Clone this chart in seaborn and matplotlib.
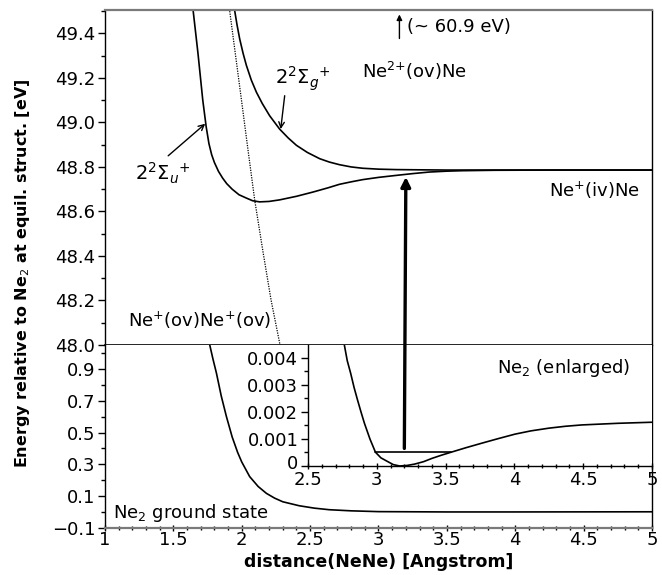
import matplotlib
matplotlib.use("Agg")
import matplotlib.pyplot as plt
import matplotlib.transforms as mtransforms
import seaborn as sns
from matplotlib.patches import ConnectionPatch
from matplotlib.ticker import FixedLocator, MultipleLocator

sns.set_style("ticks")
plt.rcParams["font.family"] = ["DejaVu Sans"]
plt.rcParams["mathtext.fontset"] = "dejavusans"
for key in ["text.color", "axes.labelcolor", "xtick.color", "ytick.color",
            "axes.edgecolor"]:
    plt.rcParams[key] = "black"

# ── data ─────────────────────────────────────────────────────────────────────
# upper panel (eV)
SIGMA_U_X = [1.645, 1.68, 1.715, 1.74, 1.76, 1.78, 1.80, 1.83, 1.86, 1.89, 1.93,
             1.98, 2.034, 2.08, 2.131, 2.20, 2.277, 2.40, 2.52, 2.63, 2.715,
             2.80, 2.885, 3.0, 3.13, 3.25, 3.37, 3.5, 3.61, 3.85, 4.3, 5.0]
SIGMA_U_Y = [49.50, 49.31, 49.10, 48.98, 48.905, 48.855, 48.82, 48.78, 48.75,
             48.725, 48.70, 48.675, 48.66, 48.648, 48.643, 48.645, 48.652,
             48.668, 48.687, 48.706, 48.722, 48.733, 48.743, 48.753, 48.762,
             48.770, 48.777, 48.781, 48.783, 48.785, 48.786, 48.786]
SIGMA_G_X = [1.949, 1.965, 1.985, 2.01, 2.034, 2.07, 2.107, 2.15, 2.204, 2.277,
             2.34, 2.40, 2.48, 2.57, 2.64, 2.715, 2.80, 2.885, 3.0, 3.13, 3.3,
             3.5, 5.0]
SIGMA_G_Y = [49.50, 49.44, 49.375, 49.31, 49.256, 49.19, 49.136, 49.085, 49.03,
             48.97, 48.93, 48.897, 48.865, 48.837, 48.822, 48.81, 48.80, 48.794,
             48.79, 48.788, 48.787, 48.786, 48.786]
DOT_X = [1.912, 1.955, 1.998, 2.045, 2.095, 2.155, 2.215, 2.28]
DOT_Y = [49.5, 49.3, 49.1, 48.88, 48.65, 48.42, 48.2, 48.0]

# lower panel (eV)
GROUND_X = [1.766, 1.79, 1.815, 1.85, 1.888, 1.93, 1.97, 2.0, 2.058, 2.12, 2.18,
            2.24, 2.30, 2.42, 2.53, 2.64, 2.8, 3.0, 3.5, 4.0, 5.0]
GROUND_Y = [1.05, 0.96, 0.873, 0.73, 0.60, 0.472, 0.375, 0.315, 0.223, 0.161,
            0.118, 0.088, 0.065, 0.04, 0.025, 0.015, 0.008, 0.003, 0.001,
            0.001, 0.002]

# inset (eV)
INSET_X = [2.764, 2.785, 2.81, 2.835, 2.86, 2.885, 2.91, 2.95, 2.99, 3.03, 3.08,
           3.12, 3.166, 3.22, 3.275, 3.34, 3.40, 3.47, 3.54, 3.65, 3.76, 3.88,
           4.005, 4.12, 4.25, 4.37, 4.49, 4.75, 5.0]
INSET_Y = [0.00448, 0.0039, 0.00343, 0.0029, 0.00244, 0.002, 0.00158, 0.001,
           0.00051, 0.0003, 0.00016, 0.00005, 0.0, 0.00002, 0.00007, 0.00016,
           0.00028, 0.0004, 0.00051, 0.00068, 0.00084, 0.00101, 0.00118,
           0.0013, 0.0014, 0.00147, 0.00152, 0.00158, 0.00162]
LEVEL_X = [2.99, 3.54]
LEVEL_Y = [0.00051, 0.00051]

# excitation arrow
EXC_X = 3.2
EXC_FROM = 0.00065   # inset units
EXC_TO = 48.755      # upper-panel units

# tick labels
UP_TICKS = [48.0, 48.2, 48.4, 48.6, 48.8, 49.0, 49.2, 49.4]
UP_LABELS = ["48.0", "48.2", "48.4", "48.6", "48.8", "49.0", "49.2", "49.4"]
LO_TICKS = [-0.1, 0.1, 0.3, 0.5, 0.7, 0.9]
LO_LABELS = ["\u22120.1", "0.1", "0.3", "0.5", "0.7", "0.9"]
X_TICKS = [1, 1.5, 2, 2.5, 3, 3.5, 4, 4.5, 5]
X_LABELS = ["1", "1.5", "2", "2.5", "3", "3.5", "4", "4.5", "5"]
IN_X_TICKS = [2.5, 3, 3.5, 4, 4.5, 5]
IN_X_LABELS = ["2.5", "3", "3.5", "4", "4.5", "5"]
IN_Y_TICKS = [0, 0.001, 0.002, 0.003, 0.004]
IN_Y_LABELS = ["0", "0.001", "0.002", "0.003", "0.004"]

FS = 13
GREY = "#7a7a7a"

fig = plt.figure(figsize=(6.62, 5.75), dpi=100)
ax_up = fig.add_axes([0.1586, 0.4, 0.8263, 0.5826])
ax_lo = fig.add_axes([0.1586, 0.0817, 0.8263, 0.3183])
ax_in = fig.add_axes([0.4653, 0.1896, 0.5196, 0.2104])

line_kw = dict(color="black", linewidth=1.2, estimator=None, legend=False)

# upper panel
sns.lineplot(x=SIGMA_U_X, y=SIGMA_U_Y, ax=ax_up, **line_kw)
sns.lineplot(x=SIGMA_G_X, y=SIGMA_G_Y, ax=ax_up, **line_kw)
sns.lineplot(x=DOT_X, y=DOT_Y, ax=ax_up, color="black", linewidth=0.9,
             linestyle=(0, (1, 1)), estimator=None, legend=False)
ax_up.set_xlim(1, 5)
ax_up.set_ylim(48.0, 49.505)
ax_up.yaxis.set_major_locator(FixedLocator(UP_TICKS))
ax_up.set_yticklabels(UP_LABELS)
ax_up.yaxis.set_minor_locator(MultipleLocator(0.1))
ax_up.set_xticks([])
ax_up.tick_params(axis="y", which="major", direction="out", length=5, width=1,
                  labelsize=FS, pad=2)
ax_up.tick_params(axis="y", which="minor", direction="out", length=3, width=1)
ax_up.spines["top"].set_color(GREY)
ax_up.spines["top"].set_linewidth(1.6)
ax_up.spines["bottom"].set_linewidth(1.2)
ax_up.spines["left"].set_linewidth(1.0)
ax_up.spines["right"].set_linewidth(1.0)
ax_up.set_xlabel("")
ax_up.set_ylabel("")

# lower panel
sns.lineplot(x=GROUND_X, y=GROUND_Y, ax=ax_lo, **line_kw)
ax_lo.set_xlim(1, 5)
ax_lo.set_ylim(-0.1, 1.05)
ax_lo.yaxis.set_major_locator(FixedLocator(LO_TICKS))
ax_lo.set_yticklabels(LO_LABELS)
ax_lo.yaxis.set_minor_locator(FixedLocator([0.0, 0.2, 0.4, 0.6, 0.8, 1.0]))
ax_lo.xaxis.set_major_locator(FixedLocator(X_TICKS))
ax_lo.set_xticklabels(X_LABELS)
ax_lo.xaxis.set_minor_locator(MultipleLocator(0.1))
ax_lo.tick_params(axis="both", which="major", length=5, width=1, labelsize=FS,
                  pad=2)
ax_lo.tick_params(axis="both", which="minor", length=3, width=1)
ax_lo.tick_params(axis="y", which="both", direction="out")
ax_lo.tick_params(axis="x", which="both", direction="inout", pad=0)
ax_lo.spines["top"].set_visible(False)
ax_lo.spines["bottom"].set_color(GREY)
ax_lo.spines["bottom"].set_linewidth(1.6)
ax_lo.spines["left"].set_linewidth(1.0)
ax_lo.spines["right"].set_linewidth(1.0)
ax_lo.set_xlabel("")
ax_lo.set_ylabel("")

# inset
sns.lineplot(x=INSET_X, y=INSET_Y, ax=ax_in, **line_kw)
sns.lineplot(x=LEVEL_X, y=LEVEL_Y, ax=ax_in, **line_kw)
ax_in.set_xlim(2.5, 5)
ax_in.set_ylim(0, 0.00448)
ax_in.xaxis.set_major_locator(FixedLocator(IN_X_TICKS))
ax_in.set_xticklabels(IN_X_LABELS)
ax_in.xaxis.set_minor_locator(MultipleLocator(0.1))
ax_in.yaxis.set_major_locator(FixedLocator(IN_Y_TICKS))
ax_in.set_yticklabels(IN_Y_LABELS)
ax_in.yaxis.set_minor_locator(MultipleLocator(0.0005))
ax_in.tick_params(axis="both", which="major", length=5, width=1, labelsize=FS,
                  pad=2)
ax_in.tick_params(axis="both", which="minor", length=3, width=1)
ax_in.tick_params(axis="y", which="both", direction="out")
ax_in.tick_params(axis="x", which="both", direction="inout", pad=1)
ax_in.spines["top"].set_visible(False)
ax_in.spines["right"].set_visible(False)
ax_in.spines["left"].set_linewidth(1.0)
ax_in.spines["bottom"].set_linewidth(1.0)
ax_in.set_xlabel("")
ax_in.set_ylabel("")

# labels and annotations
ax_up.text(2.24, 49.17, r"$2^2\Sigma_g{}^{+}$", fontsize=FS + 1, va="baseline")
ax_up.annotate("", xy=(2.285, 48.97), xytext=(2.314, 49.12),
               arrowprops=dict(arrowstyle="->", lw=1.0, color="black",
                               mutation_scale=10, shrinkA=0, shrinkB=0))
ax_up.text(1.219, 48.74, r"$2^2\Sigma_u{}^{+}$", fontsize=FS + 1, va="baseline")
ax_up.annotate("", xy=(1.733, 48.994), xytext=(1.462, 48.85),
               arrowprops=dict(arrowstyle="->", lw=1.0, color="black",
                               mutation_scale=10, shrinkA=0, shrinkB=0))
ax_up.annotate("", xy=(3.153, 49.485), xytext=(3.153, 49.377),
               arrowprops=dict(arrowstyle="-|>", lw=1.0, color="black",
                               mutation_scale=8, shrinkA=0, shrinkB=0))
ax_up.text(3.21, 49.43, "(~ 60.9 eV)", fontsize=FS, va="center")
ax_up.text(2.883, 49.20, r"Ne$^{2{+}}$(ov)Ne", fontsize=FS, va="baseline")
ax_up.text(4.25, 48.665, r"Ne$^{{+}}$(iv)Ne", fontsize=FS, va="baseline")
ax_up.text(1.168, 48.082, r"Ne$^{{+}}$(ov)Ne$^{{+}}$(ov)", fontsize=FS,
           va="baseline")
ax_in.text(3.876, 0.00344, r"Ne$_2$ (enlarged)", fontsize=FS, va="baseline")
ax_lo.text(1.056, -0.039, r"Ne$_2$ ground state", fontsize=FS, va="baseline")

exc = ConnectionPatch(xyA=(EXC_X, EXC_FROM), coordsA=ax_in.transData,
                      xyB=(EXC_X, EXC_TO), coordsB=ax_up.transData,
                      arrowstyle="-|>", lw=2.4, color="black",
                      mutation_scale=14, shrinkA=0, shrinkB=0)
fig.add_artist(exc)

fig.text(23 / 662, 1 - 273 / 575, r"Energy relative to Ne$_2$ at equil. struct. [eV]",
         rotation=90, ha="center", va="center", fontsize=11.5, fontweight="bold")
fig.text(0.5718, 1 - 562 / 575, "distance(NeNe) [Angstrom]", ha="center",
         va="center", fontsize=12.5, fontweight="bold")

# lift the inset "0" label a little so it clears the "2.5" below it
fig.canvas.draw()
zero_label = ax_in.yaxis.get_major_ticks()[0].label1
zero_label.set_transform(zero_label.get_transform()
                         + mtransforms.ScaledTranslation(0, 3 / 72,
                                                         fig.dpi_scale_trans))

fig.savefig("out.png", dpi=100)
